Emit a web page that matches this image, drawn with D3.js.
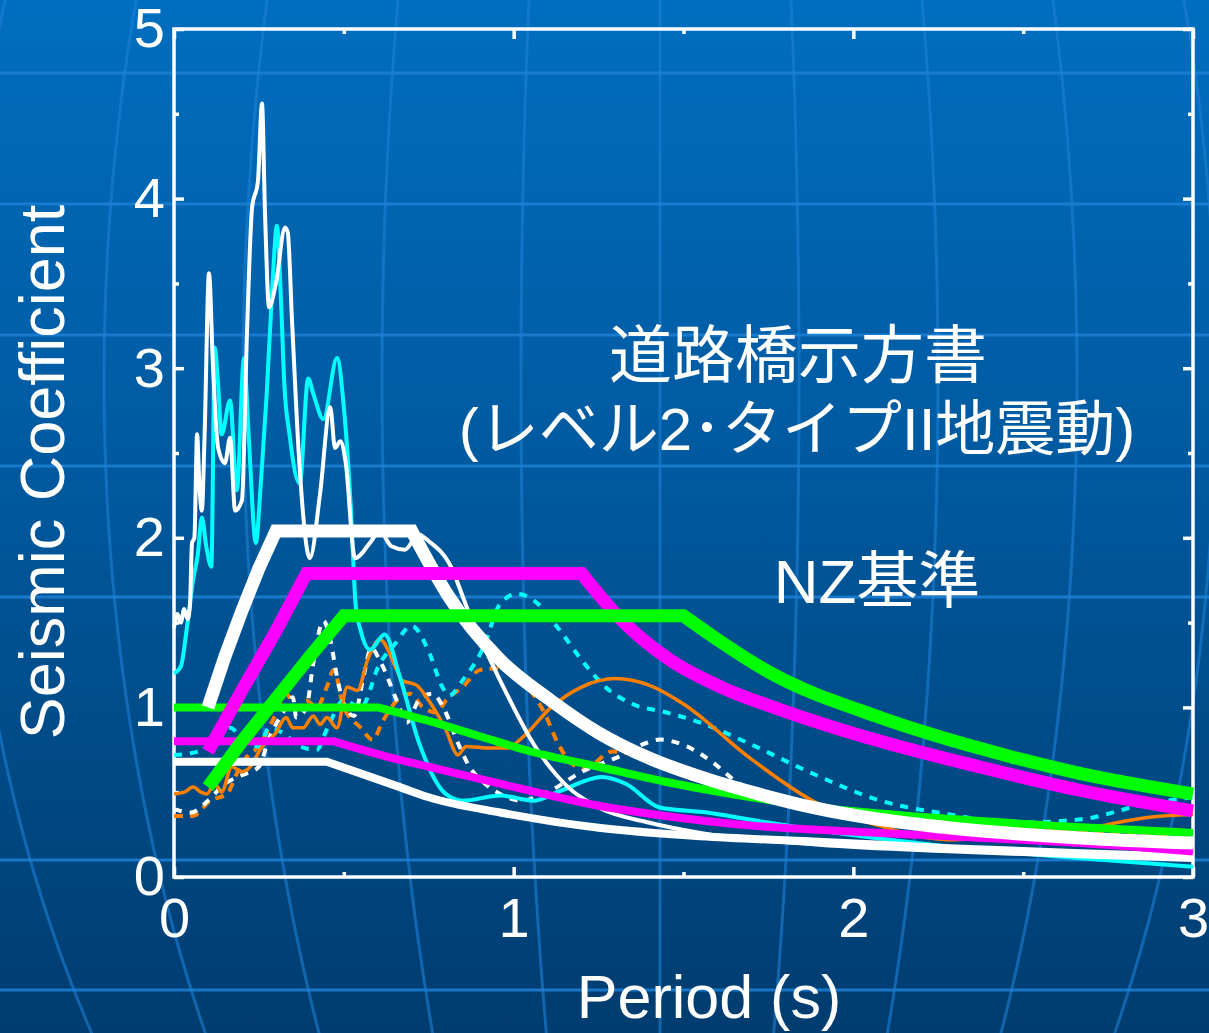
<!DOCTYPE html>
<html>
<head>
<meta charset="utf-8">
<script src="https://cdn.jsdelivr.net/npm/d3@7"></script>
<style>
  html, body { margin: 0; padding: 0; overflow: hidden; background: #00508f; }
  text { font-family: "Liberation Sans", Arial, "Noto Sans CJK JP", sans-serif; fill: #fff; }
</style>
</head>
<body>
<div id="chart"></div>
<script>
// tick labels
var periodTicks = [0, 1, 2, 3];
var coefTicks = [0, 1, 2, 3, 4, 5];

// observed spectra [period (s), seismic coefficient]
var obsWhite = [[0,1.47],[0.01,1.55],[0.02,1.5],[0.03,1.58],[0.04,1.52],[0.047,1.6],[0.053,1.97],[0.06,2.0],[0.068,2.61],[0.075,2.3],[0.082,2.16],[0.09,2.6],[0.103,3.56],[0.115,3.0],[0.13,2.53],[0.15,2.44],[0.165,2.59],[0.18,2.16],[0.2,2.22],[0.215,3.22],[0.23,3.95],[0.247,4.1],[0.259,4.56],[0.268,3.91],[0.28,3.36],[0.3,3.5],[0.327,3.83],[0.335,3.8],[0.347,3.3],[0.37,2.41],[0.40,1.88],[0.43,2.26],[0.46,2.77],[0.474,2.53],[0.49,2.57],[0.505,2.45],[0.533,1.88],[0.577,1.97],[0.606,2.04],[0.64,1.95],[0.68,1.93],[0.72,2.02],[0.75,1.98],[0.81,1.85],[0.87,1.55],[0.96,1.16],[1.06,0.78],[1.16,0.53],[1.25,0.41],[1.40,0.32],[1.55,0.26],[1.9,0.19],[2.3,0.15],[2.7,0.12],[3.0,0.10]];
var obsCyan = [[0,1.2],[0.02,1.24],[0.038,1.47],[0.056,1.75],[0.07,1.9],[0.082,2.12],[0.095,1.95],[0.11,1.83],[0.12,3.12],[0.13,2.9],[0.14,2.61],[0.165,2.81],[0.185,2.28],[0.206,3.06],[0.22,2.6],[0.241,1.97],[0.255,2.3],[0.273,2.85],[0.29,3.5],[0.303,3.84],[0.315,3.4],[0.325,2.9],[0.34,2.61],[0.37,2.32],[0.395,2.94],[0.41,2.85],[0.44,2.70],[0.48,3.06],[0.50,2.77],[0.52,2.2],[0.535,1.6],[0.55,1.45],[0.577,1.34],[0.62,1.43],[0.665,1.18],[0.72,0.8],[0.80,0.49],[0.85,0.45],[0.96,0.48],[1.06,0.45],[1.14,0.51],[1.26,0.59],[1.33,0.55],[1.43,0.41],[1.57,0.38],[1.69,0.34],[1.88,0.28],[2.28,0.18],[2.67,0.11],[3.0,0.06]];
var obsOrange = [[0,0.49],[0.03,0.5],[0.056,0.53],[0.08,0.5],[0.097,0.49],[0.12,0.55],[0.14,0.5],[0.17,0.65],[0.2,0.62],[0.22,0.64],[0.26,0.77],[0.30,0.85],[0.33,0.94],[0.35,0.88],[0.38,0.88],[0.41,0.95],[0.43,0.9],[0.45,0.94],[0.48,0.88],[0.51,1.12],[0.54,1.1],[0.57,1.28],[0.606,1.40],[0.656,1.22],[0.67,1.16],[0.715,1.13],[0.75,1.04],[0.80,0.87],[0.836,0.72],[0.86,0.77],[0.93,0.76],[0.98,0.76],[1.03,0.83],[1.11,1.0],[1.2,1.12],[1.30,1.17],[1.40,1.13],[1.50,1.02],[1.69,0.71],[1.88,0.45],[2.08,0.30],[2.28,0.22],[2.47,0.24],[2.67,0.28],[2.86,0.35],[3.0,0.37]];
var obsCyanDash = [[0,0.72],[0.05,0.73],[0.106,0.77],[0.165,0.88],[0.2,0.82],[0.25,0.77],[0.28,0.88],[0.32,0.85],[0.37,0.77],[0.42,0.75],[0.45,0.87],[0.5,1.04],[0.55,1.0],[0.606,1.26],[0.645,1.36],[0.70,1.48],[0.75,1.33],[0.79,1.12],[0.81,1.07],[0.85,1.16],[0.91,1.35],[0.96,1.61],[1.01,1.67],[1.06,1.63],[1.13,1.47],[1.2,1.28],[1.27,1.12],[1.35,1.02],[1.45,0.97],[1.55,0.91],[1.69,0.79],[1.88,0.61],[2.08,0.45],[2.28,0.37],[2.47,0.32],[2.67,0.34],[2.86,0.43],[3.0,0.47]];
var obsWhiteDash = [[0,0.4],[0.05,0.38],[0.1,0.45],[0.15,0.55],[0.2,0.6],[0.25,0.65],[0.28,0.82],[0.3,0.9],[0.33,1.0],[0.35,1.06],[0.36,0.94],[0.39,1.0],[0.41,1.26],[0.44,1.51],[0.46,1.40],[0.48,1.18],[0.5,1.02],[0.53,0.95],[0.56,1.2],[0.58,1.35],[0.61,1.26],[0.656,1.04],[0.685,0.91],[0.72,1.04],[0.76,1.08],[0.80,0.97],[0.836,0.79],[0.87,0.65],[0.91,0.56],[0.96,0.49],[1.02,0.45],[1.1,0.5],[1.2,0.62],[1.31,0.71],[1.39,0.79],[1.43,0.81],[1.51,0.77],[1.59,0.67],[1.65,0.57],[1.8,0.45],[2.0,0.36],[2.5,0.25],[3.0,0.2]];
var obsOrangeDash = [[0,0.36],[0.056,0.36],[0.106,0.45],[0.156,0.49],[0.185,0.61],[0.215,0.71],[0.25,0.77],[0.29,0.92],[0.33,1.08],[0.36,1.0],[0.39,1.04],[0.42,1.0],[0.45,1.12],[0.47,1.22],[0.5,1.0],[0.55,0.88],[0.585,0.81],[0.615,0.92],[0.656,1.04],[0.695,1.08],[0.733,1.0],[0.774,0.97],[0.80,1.04],[0.85,1.12],[0.90,1.22],[0.95,1.23],[0.99,1.2],[1.04,1.12],[1.09,0.97],[1.13,0.79],[1.17,0.67],[1.21,0.64],[1.29,0.74],[1.34,0.73],[1.5,0.62],[1.7,0.5],[2.0,0.38],[2.5,0.28],[3.0,0.25]];

// NZ code spectra (medium lines)
var nzWhite = [[0,0.68],[0.45,0.68],[0.665,0.53],[0.75,0.47],[0.96,0.38],[1.25,0.29],[1.55,0.24],[1.88,0.21],[2.28,0.17],[2.67,0.14],[3.0,0.12]];
var nzMagenta = [[0,0.8],[0.47,0.8],[0.665,0.69],[0.75,0.65],[0.96,0.55],[1.25,0.42],[1.41,0.37],[1.72,0.3],[1.88,0.28],[2.28,0.24],[2.67,0.2],[3.0,0.15]];
var nzGreen = [[0,1.0],[0.6,1.0],[0.75,0.92],[0.9,0.83],[1.05,0.74],[1.25,0.65],[1.45,0.56],[1.7,0.47],[1.9,0.41],[2.3,0.34],[2.7,0.29],[3.0,0.26]];

// road bridge spec, level 2 type II (thick lines)
var jpWhite = [[0.1,1.0],[0.15,1.3],[0.2,1.57],[0.25,1.82],[0.3,2.04],[0.7,2.04],[0.81,1.65],[0.96,1.28],[1.11,1.04],[1.25,0.85],[1.40,0.70],[1.55,0.59],[1.72,0.49],[1.88,0.41],[2.28,0.29],[2.67,0.23],[3.0,0.20]];
var jpMagenta = [[0.1,0.74],[0.2,1.1],[0.3,1.45],[0.39,1.79],[1.2,1.79],[1.31,1.53],[1.46,1.28],[1.61,1.12],[1.78,0.99],[2.08,0.80],[2.37,0.65],[2.67,0.51],[3.0,0.39]];
var jpGreen = [[0.1,0.53],[0.2,0.8],[0.3,1.05],[0.4,1.3],[0.5,1.54],[1.5,1.54],[1.6,1.40],[1.75,1.21],[2.08,0.94],[2.37,0.76],[2.67,0.61],[3.0,0.49]];

var width = 1209, height = 1033;

var x = d3.scaleLinear().domain([0, 3]).range([174, 1193]);
var y = d3.scaleLinear().domain([0, 5]).range([877, 29]);

var svg = d3.select("#chart").append("svg")
  .attr("width", width)
  .attr("height", height);

// background
var grad = svg.append("defs").append("linearGradient")
  .attr("id", "bg").attr("x1", 0).attr("y1", 0).attr("x2", 0).attr("y2", 1);
grad.append("stop").attr("offset", 0).attr("stop-color", "#006ec0");
grad.append("stop").attr("offset", 0.5).attr("stop-color", "#00579b");
grad.append("stop").attr("offset", 1).attr("stop-color", "#003c6f");
svg.append("rect").attr("width", width).attr("height", height).attr("fill", "url(#bg)");

// globe lines
var deco = svg.append("g").attr("fill", "none");
[73, 204, 335, 466, 597, 860, 990].forEach(function(gy) {
  deco.append("line").attr("x1", 0).attr("x2", width).attr("y1", gy).attr("y2", gy)
    .attr("stroke", "#1d80d6").attr("stroke-width", 3).attr("opacity", 0.85);
});
var meridian = d3.line().curve(d3.curveBasis);
d3.range(-5, 5).forEach(function(i) {
  var pts = d3.range(0, height + 20, 20).map(function(gy) {
    var t = (gy - 380) / 1135;
    return [660 + i * 139 * Math.sqrt(1 - t * t), gy];
  });
  deco.append("path").attr("d", meridian(pts))
    .attr("stroke", "#1d80d6").attr("stroke-width", 3).attr("opacity", 0.6);
});

// axes
function styleAxis(g) {
  g.select(".domain").remove();
  g.selectAll(".tick line").attr("stroke", "#fff").attr("stroke-width", 3.5);
  g.selectAll(".tick text").attr("fill", "#fff").style("font-size", "56px")
    .style("font-family", "'Liberation Sans', Arial, sans-serif");
}
var minorY = [0.5, 1.5, 2.5, 3.5, 4.5];
var minorX = [0.5, 1.5, 2.5];

svg.append("g").attr("transform", "translate(174,0)")
  .call(d3.axisLeft(y).tickValues(coefTicks).tickSize(-10).tickPadding(9).tickFormat(d3.format("d")))
  .call(styleAxis);
svg.append("g").attr("transform", "translate(174,0)")
  .call(d3.axisLeft(y).tickValues(minorY).tickSize(-5).tickFormat(""))
  .call(styleAxis);
svg.append("g").attr("transform", "translate(1193,0)")
  .call(d3.axisRight(y).tickValues(coefTicks).tickSize(-10).tickFormat(""))
  .call(styleAxis);
svg.append("g").attr("transform", "translate(1193,0)")
  .call(d3.axisRight(y).tickValues(minorY).tickSize(-5).tickFormat(""))
  .call(styleAxis);
svg.append("g").attr("transform", "translate(0,877)")
  .call(d3.axisBottom(x).tickValues(periodTicks).tickSize(-10).tickPadding(20).tickFormat(d3.format("d")))
  .call(styleAxis);
svg.append("g").attr("transform", "translate(0,877)")
  .call(d3.axisBottom(x).tickValues(minorX).tickSize(-5).tickFormat(""))
  .call(styleAxis);
svg.append("g").attr("transform", "translate(0,29)")
  .call(d3.axisTop(x).tickValues(periodTicks).tickSize(-10).tickFormat(""))
  .call(styleAxis);
svg.append("g").attr("transform", "translate(0,29)")
  .call(d3.axisTop(x).tickValues(minorX).tickSize(-5).tickFormat(""))
  .call(styleAxis);

svg.append("rect")
  .attr("x", x(0)).attr("y", y(5))
  .attr("width", x(3) - x(0)).attr("height", y(0) - y(5))
  .attr("fill", "none").attr("stroke", "#fff").attr("stroke-width", 3.5);

// lines
var smooth = d3.line().x(function(d){ return x(d[0]); }).y(function(d){ return y(d[1]); })
  .curve(d3.curveMonotoneX);
var straight = d3.line().x(function(d){ return x(d[0]); }).y(function(d){ return y(d[1]); });

// straight rise + plateau, then smooth decay
function codePath(d) {
  var vmax = d3.max(d, function(p){ return p[1]; });
  var k = d3.max(d.map(function(p, i){ return p[1] === vmax ? i : -1; }));
  var a = straight(d.slice(0, k + 1));
  var b = smooth(d.slice(k));
  return a + b.replace(/^M[^A-Za-z]*/, "");
}

var observed = [
  {data: obsOrangeDash, color: "#ff8000", w: 4, dash: "9,7"},
  {data: obsWhiteDash, color: "#ffffff", w: 4, dash: "8,8"},
  {data: obsCyanDash, color: "#00ffff", w: 4, dash: "8,8"},
  {data: obsOrange, color: "#ff8000", w: 3.5, dash: null},
  {data: obsCyan, color: "#00ffff", w: 4, dash: null},
  {data: obsWhite, color: "#ffffff", w: 4, dash: null}
];
var plot = svg.append("g").attr("fill", "none");
observed.forEach(function(s) {
  plot.append("path").attr("d", smooth(s.data))
    .attr("stroke", s.color).attr("stroke-width", s.w)
    .attr("stroke-dasharray", s.dash)
    .attr("stroke-linejoin", "round");
});

var codes = [
  {data: nzWhite, color: "#ffffff", w: 8},
  {data: nzMagenta, color: "#ff00ff", w: 8},
  {data: nzGreen, color: "#00ff00", w: 8},
  {data: jpWhite, color: "#ffffff", w: 13},
  {data: jpMagenta, color: "#ff00ff", w: 13},
  {data: jpGreen, color: "#00ff00", w: 13}
];
codes.forEach(function(s) {
  plot.append("path").attr("d", codePath(s.data))
    .attr("stroke", s.color).attr("stroke-width", s.w)
    .attr("stroke-linejoin", "miter").attr("stroke-linecap", "butt");
});

// titles
svg.append("text")
  .attr("x", 709).attr("y", 1018)
  .attr("text-anchor", "middle")
  .style("font-size", "61px")
  .text("Period (s)");
svg.append("text")
  .attr("transform", "translate(64,472) rotate(-90)")
  .attr("text-anchor", "middle")
  .style("font-size", "63px")
  .text("Seismic Coefficient");

// annotations
svg.append("text")
  .attr("x", 798).attr("y", 377)
  .attr("text-anchor", "middle")
  .style("font-size", "63px")
  .style("font-family", "'Noto Sans CJK JP', sans-serif")
  .text("道路橋示方書");
svg.append("text")
  .attr("x", 797).attr("y", 450)
  .attr("text-anchor", "middle")
  .style("font-size", "60px")
  .text("(レベル2･タイプII地震動)");
svg.append("text")
  .attr("x", 877).attr("y", 603)
  .attr("text-anchor", "middle")
  .style("font-size", "62px")
  .text("NZ基準");
</script>
</body>
</html>
